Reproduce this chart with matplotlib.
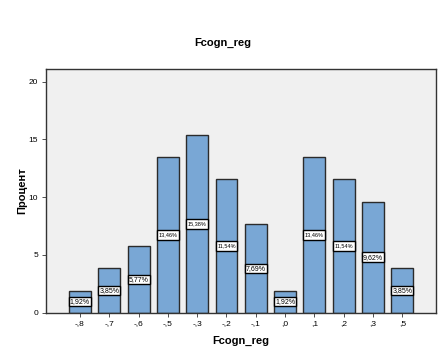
import numpy as np
import matplotlib
matplotlib.use('Agg')
import matplotlib.pyplot as plt

# Данные гистограммы
categories = ['-,8', '-,7', '-,6', '-,5', '-,3', '-,2', '-,1', ',0', ',1', ',2', ',3', ',5']
percents = [1.92, 3.85, 5.77, 13.46, 15.38, 11.54, 7.69, 1.92, 13.46, 11.54, 9.62, 3.85]
bar_labels = ['1,92%', '3,85%', '5,77%', '13,46%', '15,38%', '11,54%',
              '7,69%', '1,92%', '13,46%', '11,54%', '9,62%', '3,85%']
y_ticks = [0, 5, 10, 15, 20]

plt.rcParams['font.family'] = ['Liberation Sans', 'DejaVu Sans']

fig = plt.figure(figsize=(4.45, 3.56), dpi=100)
ax = fig.add_axes([0.1027, 0.1216, 0.8771, 0.6846])
ax.set_facecolor('#F0F0F0')

x = np.arange(len(categories))
bar_w = 0.75
ax.bar(x, percents, width=bar_w, color='#79A7D5', edgecolor='#2B2B2B', linewidth=1.0, zorder=2)

# белые подписи на всю ширину столбца, по центру высоты
box_h = 0.82
mids = np.array(percents) / 2
ax.bar(x, box_h, bottom=mids - box_h / 2, width=bar_w, color='white',
       edgecolor='black', linewidth=1.0, zorder=3)
for xi, m, lab in zip(x, mids, bar_labels):
    fs = 5 if len(lab) <= 5 else 4
    ax.text(xi, m, lab, ha='center', va='center', fontsize=fs, zorder=4)

ax.set_xlim(-1.17, len(categories) + 0.15)
ax.set_ylim(0, 21.1)
ax.set_xticks(x)
ax.set_xticklabels(categories, fontsize=6)
ax.set_yticks(y_ticks)
ax.set_yticklabels([str(t) for t in y_ticks], fontsize=6)
ax.tick_params(axis='both', length=3, width=0.6, color='#333333', pad=2.5)

for s in ax.spines.values():
    s.set_color('#333333')
    s.set_linewidth(1.0)

ax.set_xlabel('Fcogn_reg', fontsize=8, fontweight='bold')
ax.set_ylabel('Процент', fontsize=8, fontweight='bold')
ax.xaxis.set_label_coords(0.5, -0.116)
ax.yaxis.set_label_coords(-0.061, 0.5)
ax.xaxis.label.set_va('center')
ax.yaxis.label.set_va('center')
fig.text(0.5, 1 - 43 / 356, 'Fcogn_reg', ha='center', va='center', fontsize=8, fontweight='bold')

fig.savefig('out.png', dpi=100)
plt.close(fig)
